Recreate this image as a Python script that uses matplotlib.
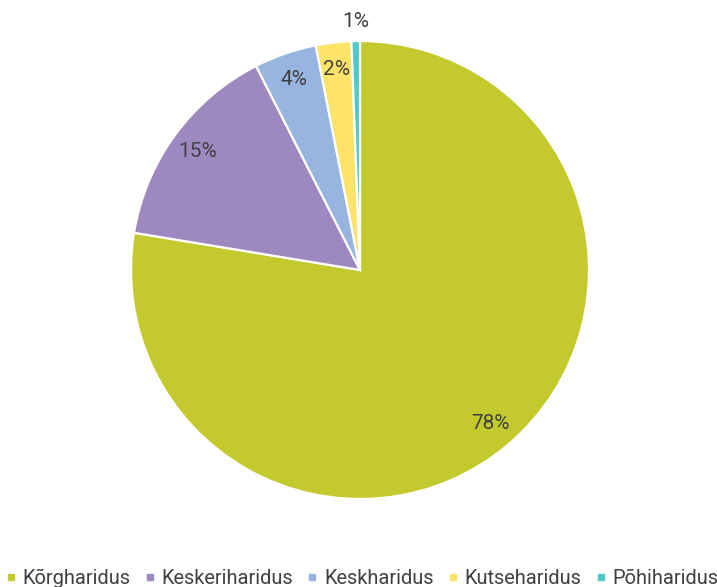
import matplotlib
matplotlib.use("Agg")
import matplotlib.pyplot as plt
from matplotlib.lines import Line2D
import numpy as np

# education level shares (percent)
labels = ["Kõrgharidus", "Keskeriharidus", "Keskharidus", "Kutseharidus", "Põhiharidus"]
shares = [77.6, 14.9, 4.4, 2.5, 0.6]
colors = ["#c4ca2e", "#9d89c0", "#98b4e0", "#fde468", "#4ec9c6"]

plt.rcParams["font.family"] = ["Roboto", "DejaVu Sans"]
text_col = "#404040"

W, H = 717, 587
fig = plt.figure(figsize=(W / 100, H / 100), dpi=100)
cx, cy, r = 360, 270, 229
ax = fig.add_axes([(cx - r) / W, (H - cy - r) / H, 2 * r / W, 2 * r / H])

wedges, texts, autotexts = ax.pie(
    shares, colors=colors, startangle=90, counterclock=False,
    autopct=lambda p: "{:.0f}%".format(p), pctdistance=0.88,
    wedgeprops=dict(edgecolor="white", linewidth=1.6),
    textprops=dict(color=text_col, fontsize=15))
ax.set_xlim(-1, 1)
ax.set_ylim(-1, 1)

# smallest slice label sits outside the pie
w = wedges[-1]
ang = np.deg2rad((w.theta1 + w.theta2) / 2)
autotexts[-1].set_position((1.085 * np.cos(ang), 1.085 * np.sin(ang)))

handles = [Line2D([], [], marker="s", linestyle="", color=c, markersize=5) for c in colors]
fig.legend(handles, labels, loc="center", bbox_to_anchor=(362 / W, 1 - 578 / H), ncol=5,
           frameon=False, fontsize=14.4, labelcolor=text_col, handlelength=0.5,
           handletextpad=0.35, columnspacing=0.7, borderaxespad=0, borderpad=0)

fig.savefig("out.png", dpi=100)
